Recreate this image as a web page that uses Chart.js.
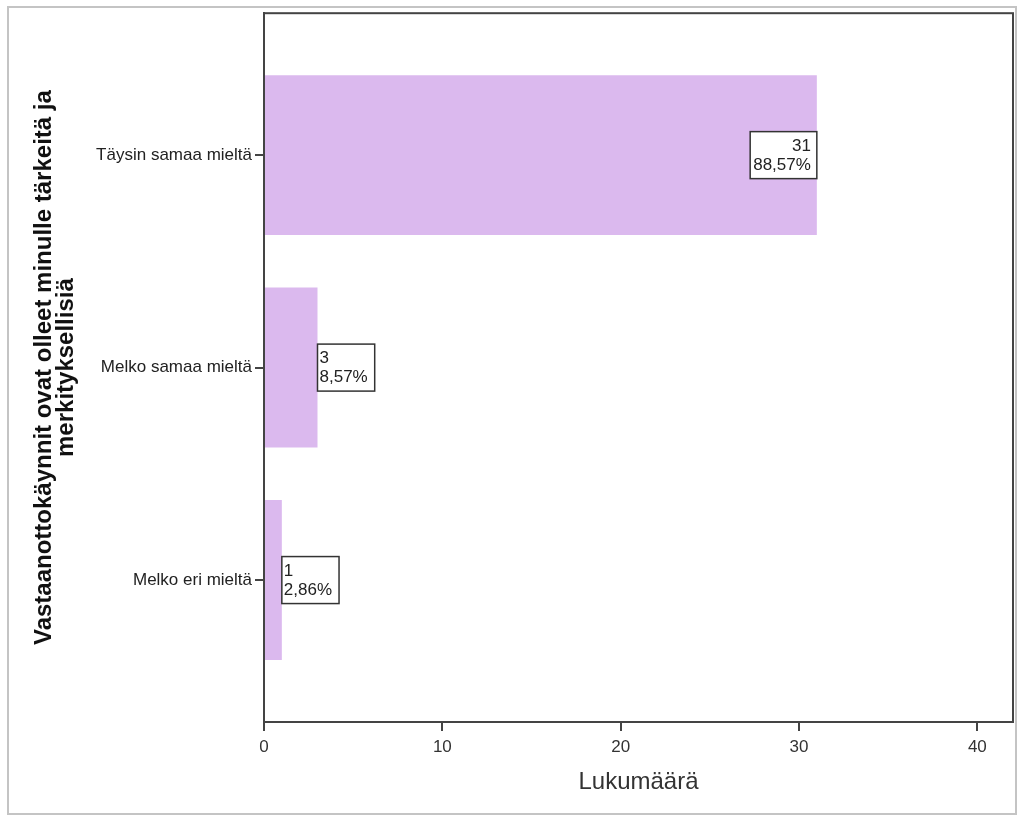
<!DOCTYPE html>
<html>
<head>
<meta charset="utf-8">
<script src="https://cdn.jsdelivr.net/npm/chart.js@4/dist/chart.umd.min.js"></script>
<style>
  html, body { margin: 0; padding: 0; background: #fff; }
  #wrap { width: 1019px; height: 816px; }
</style>
</head>
<body>
<div id="wrap"><canvas id="js-canvas-vastaanotto" width="1019" height="816"></canvas></div>
<script>
  // categories from top to bottom
  const answers = ['Täysin samaa mieltä', 'Melko samaa mieltä', 'Melko eri mieltä'];
  // counts per answer
  const counts = [31, 3, 1];
  // percentages as printed in the boxes
  const percents = ['88,57%', '8,57%', '2,86%'];
  // x-axis ticks
  const xTicks = [0, 10, 20, 30, 40];

  const font = 'Liberation Sans, Arial, sans-serif';

  // frame round the whole picture + box round the plot
  const frames = {
    id: 'frames',
    beforeDraw(chart) {
      const c = chart.ctx;
      c.save();
      c.strokeStyle = '#c4c4c4';
      c.lineWidth = 2;
      c.strokeRect(8, 7, 1008, 807);
      c.restore();
    },
    afterDraw(chart) {
      const a = chart.chartArea;
      const c = chart.ctx;
      c.save();
      c.strokeStyle = '#444';
      c.lineWidth = 2;
      c.strokeRect(a.left, a.top, a.right - a.left, a.bottom - a.top);
      c.restore();
    }
  };

  // boxed labels with count + percent
  const boxLabels = {
    id: 'boxLabels',
    afterDatasetsDraw(chart) {
      const c = chart.ctx;
      const bars = chart.getDatasetMeta(0).data;
      c.save();
      c.font = '17px ' + font;
      c.textBaseline = 'middle';
      bars.forEach((bar, i) => {
        const lines = [String(counts[i]), percents[i]];
        const w = Math.max(...lines.map(t => c.measureText(t).width)) + 9;
        const h = 47;
        const inside = (bar.x - bar.base) > w + 10;
        const left = inside ? bar.x - w : bar.x;
        const top = bar.y - h / 2;
        c.fillStyle = '#fff';
        c.fillRect(left, top, w, h);
        c.strokeStyle = '#333';
        c.lineWidth = 1.5;
        c.strokeRect(left, top, w, h);
        c.fillStyle = '#222';
        c.textAlign = inside ? 'right' : 'left';
        const tx = inside ? left + w - 6 : left + 2;
        c.fillText(lines[0], tx, bar.y - 9);
        c.fillText(lines[1], tx, bar.y + 10);
      });
      c.restore();
    }
  };

  const ctx = document.getElementById('js-canvas-vastaanotto');
  new Chart(ctx, {
    type: 'bar',
    data: {
      datasets: [{
        data: counts.map((v, i) => ({ x: v, y: i })),
        backgroundColor: '#dbb9ee',
        borderWidth: 0,
        categoryPercentage: 1,
        barPercentage: 0.753
      }]
    },
    options: {
      indexAxis: 'y',
      responsive: false,
      animation: false,
      layout: { padding: { left: 0, top: 13, right: 6, bottom: 0 } },
      plugins: { legend: { display: false }, tooltip: { enabled: false } },
      scales: {
        x: {
          type: 'linear',
          min: 0,
          max: 42,
          afterBuildTicks: s => { s.ticks = xTicks.map(v => ({ value: v })); },
          afterFit: s => { s.height = 94; },
          grid: { drawOnChartArea: false, drawTicks: true, tickLength: 9, color: '#444', lineWidth: 2 },
          border: { color: '#444', width: 2 },
          ticks: { color: '#333', font: { family: font, size: 17 }, padding: 6 },
          title: {
            display: true,
            text: 'Lukumäärä',
            color: '#333',
            font: { family: font, size: 24 },
            padding: { top: 0, bottom: 19 }
          }
        },
        y: {
          type: 'linear',
          reverse: true,
          offset: false,
          min: -0.668,
          max: 2.668,
          afterBuildTicks: s => { s.ticks = answers.map((a, i) => ({ value: i })); },
          afterFit: s => { s.width = 264; },
          grid: { offset: false, drawOnChartArea: false, drawTicks: true, tickLength: 9, color: '#444', lineWidth: 2 },
          border: { color: '#444', width: 2 },
          ticks: {
            color: '#222',
            font: { family: font, size: 17 },
            padding: 3,
            callback: v => answers[v]
          },
          title: {
            display: true,
            text: ['Vastaanottokäynnit ovat olleet minulle tärkeitä ja', 'merkityksellisiä'],
            color: '#111',
            font: { family: font, size: 24, weight: 'bold', lineHeight: 0.92 },
            padding: { top: 33, bottom: 0 }
          }
        }
      }
    },
    plugins: [frames, boxLabels]
  });
</script>
</body>
</html>
